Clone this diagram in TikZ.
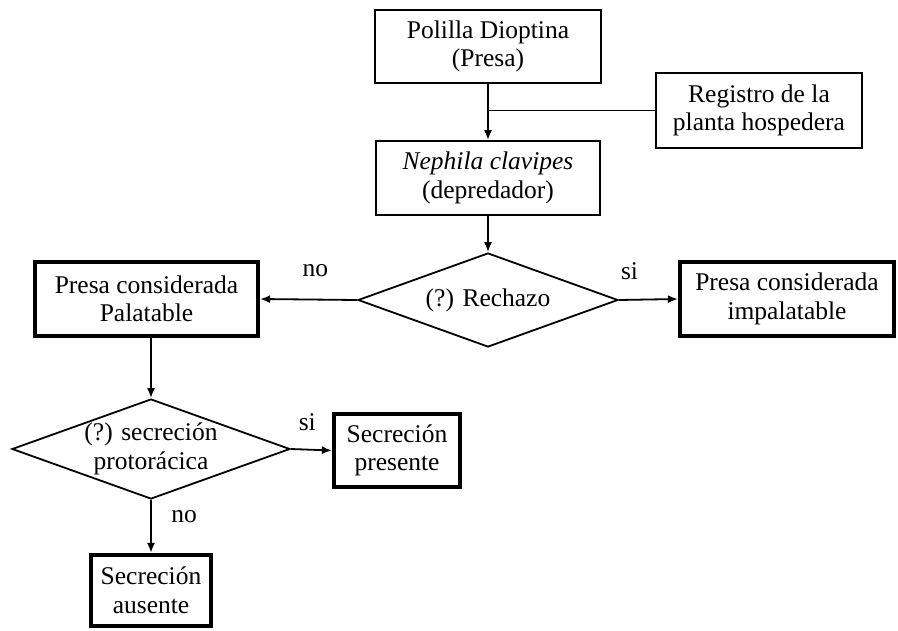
\documentclass[tikz,border=0pt]{standalone}
\usepackage{fontspec}
\setmainfont{Liberation Serif}
\usetikzlibrary{arrows.meta,positioning,calc,shapes.geometric}

\begin{document}
\begin{tikzpicture}[x=1pt, y=-1pt, >={Latex[length=10pt,width=8pt]},
  caja/.style={draw, line width=1.8pt, align=center, inner sep=0pt,
    font=\fontsize{25.5}{28.5}\selectfont},
  cajafin/.style={caja, line width=4.2pt},
  decision/.style={diamond, aspect=2.78, draw, line width=1.8pt, align=center,
    inner sep=0pt, font=\fontsize{25.5}{28.5}\selectfont},
  flecha/.style={->, line width=1.8pt},
  etiq/.style={font=\fontsize{25.5}{28.5}\selectfont}]
  \useasboundingbox (0,0) rectangle (898,630);

  % presa, depredador y planta
  \node[caja, minimum width=226pt, minimum height=73pt] (polilla) at (488,46.5)
    {Polilla Dioptina\\(Presa)};
  \node[caja, minimum width=206pt, minimum height=75pt] (registro) at (759,110.5)
    {Registro de la\\planta hospedera};
  \node[caja, minimum width=224pt, minimum height=74pt] (nephila) at (488,178)
    {\textit{Nephila clavipes}\\(depredador)};

  % primera decision
  \node[decision, minimum width=260pt, minimum height=94pt] (rechazo) at (488,300)
    {(?) Rechazo};
  \node[cajafin, minimum width=223pt, minimum height=74pt] (palatable) at (146.5,299)
    {Presa considerada\\Palatable};
  \node[cajafin, minimum width=214pt, minimum height=74pt] (impalatable) at (787,299)
    {Presa considerada\\impalatable};

  % segunda decision
  \node[decision, inner xsep=-6pt, inner ysep=-3pt, minimum width=278pt, minimum height=100pt]
    (secrecion) at (151,449) {(?) secreción\\protorácica};
  \node[cajafin, minimum width=126pt, minimum height=73pt] (presente) at (397,450.5)
    {Secreción\\presente};
  \node[cajafin, minimum width=120pt, minimum height=71pt] (ausente) at (151,590.5)
    {Secreción\\ausente};

  % conectores
  \draw[flecha] (polilla) -- (nephila);
  \draw[line width=1.8pt] (registro.west) -- (polilla.south |- registro.west);
  \draw[flecha] (nephila) -- (rechazo);
  \draw[flecha] (rechazo.west) -- node[etiq, pos=0.43, yshift=29pt] (noA) {no} (palatable.east);
  \draw[flecha] (rechazo.east) -- node[etiq, pos=0.18, yshift=29pt] (siA) {si} (impalatable.west);
  \draw[flecha] (palatable.south -| secrecion.north) -- (secrecion.north);
  \draw[flecha] (secrecion.east) -- node[etiq, pos=0.4, yshift=27pt] (siB) {si} (presente.west);
  \draw[flecha] (secrecion.south) -- node[etiq, pos=0.31, xshift=33pt] (noB) {no} (ausente.north);
\end{tikzpicture}
\end{document}
